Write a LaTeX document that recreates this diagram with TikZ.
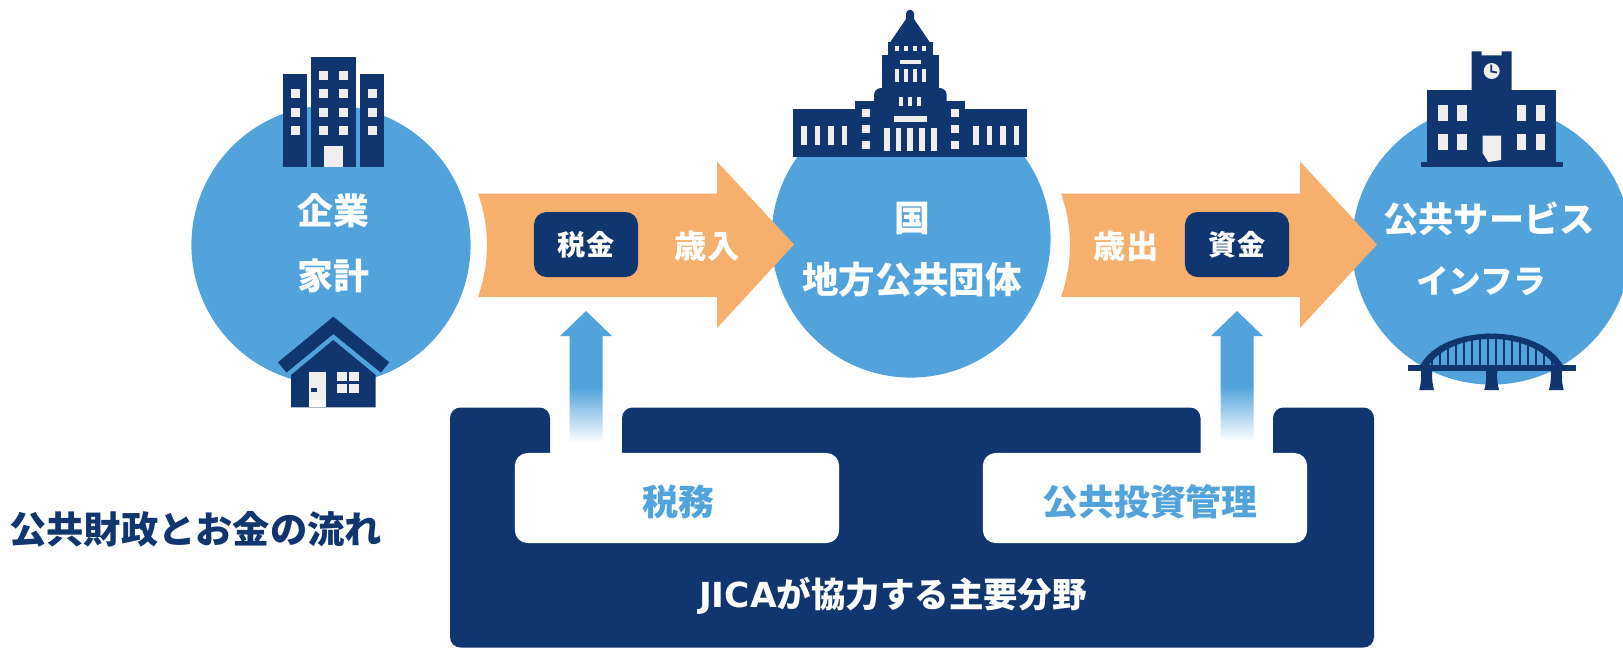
\documentclass[tikz,border=0pt]{standalone}
\usepackage{fontspec}
\setmainfont{Noto Sans CJK JP}
\newfontfamily\jicafont{DejaVu Sans}
\usepackage{tikz}
\definecolor{navy}{HTML}{11366F}
\definecolor{sky}{HTML}{52A3DC}
\definecolor{peach}{HTML}{F6AF6C}
\definecolor{pane}{HTML}{F0EEED}
\pgfdeclareverticalshading{liftfade}{100bp}{color(0bp)=(white); color(25bp)=(white); color(46bp)=(sky); color(100bp)=(sky)}
\tikzset{
    bluecircle/.style={circle, fill=sky, minimum size=2.79cm, inner sep=0pt},
    bigtext/.style={text=white, font=\bfseries\fontsize{10.2}{12}\selectfont, inner sep=0pt},
    smalltext/.style={text=white, font=\bfseries\fontsize{9.2}{10}\selectfont, inner sep=0pt},
    navybox/.style={fill=navy, rounded corners=3.6pt, minimum width=1.04cm, minimum height=0.65cm, inner sep=0pt, text=white, font=\bfseries\fontsize{8}{10}\selectfont},
    whitebox/.style={fill=white, rounded corners=3.6pt, minimum width=3.24cm, minimum height=0.90cm, inner sep=0pt},
    flow/.style={fill=peach},
    icon/.style={fill=navy},
    windowpane/.style={fill=pane}
}

\begin{document}
\begin{tikzpicture}[x=0.01cm, y=-0.01cm]
    \clip (0, 0) rectangle (1623, 647);

    \node[bluecircle] (firms) at (331, 245) {};
    \node[bluecircle] (state) at (911, 238) {};
    \node[bluecircle] (services) at (1491.5, 245) {};

    \fill[flow] (478, 193.5) -- (717, 193.5) -- (717, 161.5) -- (794, 244.5) -- (717, 328) -- (717, 297) -- (478, 297) .. controls (490, 262) and (490, 228) .. cycle;
    \fill[flow] (1061, 193.5) -- (1300, 193.5) -- (1300, 161.5) -- (1377, 244.5) -- (1300, 328) -- (1300, 297) -- (1061, 297) .. controls (1073, 262) and (1073, 228) .. cycle;

    \fill[icon] (283.3, 74.3) rectangle (307.3, 166.7);
    \fill[icon] (311, 57) rectangle (356, 166.7);
    \fill[icon] (360, 74.3) rectangle (383.7, 166.7);
    \foreach \wy in {93.3, 112, 130.7} {
        \foreach \wx in {295.3, 323.7, 343.3, 372} {
            \fill[windowpane] (\wx-4.5, \wy-4.5) rectangle (\wx+4.5, \wy+4.5);
        }
    }
    \fill[windowpane] (319.2, 70.5) rectangle (328.2, 79.5);
    \fill[windowpane] (338.8, 70.5) rectangle (347.8, 79.5);
    \fill[windowpane] (323.7, 146) rectangle (343.3, 166.7);

    \fill[icon] (333.3, 316.7) -- (389.3, 362.3) -- (380.7, 372.7) -- (333.3, 334.3) -- (286.7, 372.7) -- (278, 362.3) -- cycle;
    \fill[sky] (286.7, 372.7) -- (333.3, 334.3) -- (380.7, 372.7) -- (375.7, 375) -- (333.3, 340) -- (291, 375) -- cycle;
    \fill[icon] (333.3, 340) -- (375.7, 375) -- (375.7, 407.3) -- (291, 407.3) -- (291, 375) -- cycle;
    \fill[white] (308.7, 371.7) rectangle (326, 407.3);
    \fill[windowpane] (308.7, 371.7) rectangle (326, 400);
    \fill[icon] (311, 388) rectangle (317, 392);
    \foreach \wx in {337.3, 349.3} {
        \foreach \wy in {372, 383.7} {
            \fill[windowpane] (\wx, \wy) rectangle (\wx+9.4, \wy+9.3);
        }
    }

    \fill[icon] (793.3, 109.3) rectangle (1027.3, 156.7);
    \fill[icon] (855.3, 101.3) rectangle (965.3, 110);
    \fill[icon] (874, 102) -- (874, 95) arc (180:270:7) -- (939.7, 88) arc (270:360:7) -- (946.7, 102) -- cycle;
    \fill[icon] (882.3, 55) rectangle (938.7, 89);
    \fill[icon] (887.7, 42.3) rectangle (933.3, 55.5);
    \fill[icon] (890, 42.5) -- (906, 19) -- (906, 13.7) arc (180:360:4) -- (914, 19) -- (930, 42.5) -- cycle;
    \foreach \wx in {894.7, 904, 913, 922} {
        \fill[windowpane] (\wx, 46.3) rectangle (\wx+4.3, 51);
        \fill[windowpane] (\wx, 69) rectangle (\wx+4.3, 82.3);
    }
    \fill[windowpane] (900, 60) rectangle (921, 64.3);
    \foreach \wx in {899.3, 908, 917} {
        \fill[windowpane] (\wx, 97) rectangle (\wx+4, 106);
    }
    \foreach \wx in {862, 950.7} {
        \foreach \wy in {109, 125, 141} {
            \fill[windowpane] (\wx, \wy) rectangle (\wx+8, \wy+8.3);
        }
    }
    \fill[windowpane] (894, 116.3) rectangle (926.7, 122.3);
    \foreach \wx/\ww in {884/6, 896/5, 907/6, 919/6, 931/5.7} {
        \fill[windowpane] (\wx, 128.3) rectangle (\wx+\ww, 151);
    }
    \foreach \wx/\ww in {801.3/6, 815/5, 828/6, 842/5.3, 973/6, 987/5, 1000/6, 1014/5} {
        \fill[windowpane] (\wx, 125.7) rectangle (\wx+\ww, 145);
    }

    \fill[icon] (1421, 162) rectangle (1562.7, 167);
    \fill[icon] (1427.3, 90) rectangle (1556, 162.5);
    \fill[icon] (1471.7, 90.5) -- (1471.7, 51.3) -- (1481.7, 51.3) -- (1481.7, 55.3) -- (1501.7, 55.3) -- (1501.7, 51.3) -- (1511.7, 51.3) -- (1511.7, 90.5) -- cycle;
    \fill[windowpane] (1491.7, 71) circle (8);
    \draw[navy, line width=0.5pt] (1491.2, 64.5) -- (1491.2, 71.5) -- (1497, 72.5);
    \foreach \wx in {1438.3, 1457.3, 1516.7, 1535.7} {
        \fill[windowpane] (\wx, 105) rectangle (\wx+9.5, 120.7);
        \fill[windowpane] (\wx, 134) rectangle (\wx+9.5, 150);
    }
    \fill[windowpane] (1482.7, 135.7) -- (1501, 135.7) -- (1501, 160) -- (1488.3, 162) -- (1482.7, 153.3) -- cycle;

    \begin{scope}
        \clip (1420, 366) .. controls (1442, 322.8) and (1540, 322.8) .. (1563.3, 366) -- cycle;
        \foreach \hx in {1431.7, 1439.7, ..., 1552} {
            \fill[icon] (\hx-1.2, 330) rectangle (\hx+1.2, 366);
        }
    \end{scope}
    \fill[icon] (1420, 366) .. controls (1442, 322.8) and (1540, 322.8) .. (1563.3, 366) -- (1555, 366) .. controls (1530, 329.9) and (1452, 329.9) .. (1428.3, 366) -- cycle;
    \fill[icon] (1408, 365) rectangle (1576, 370.7);
    \foreach \px in {1419.3, 1484.3, 1549} {
        \fill[icon] (\px+1.5, 370) .. controls (\px+2.5, 378) and (\px+1.5, 384) .. (\px, 390) -- (\px+14.7, 390) .. controls (\px+13.2, 384) and (\px+12.2, 378) .. (\px+13.2, 370) -- cycle;
    }

    \fill[navy, rounded corners=3pt] (450, 647.5) -- (450, 407.5) -- (550, 407.5) -- (550, 470) -- (622, 470) -- (622, 407.5) -- (1200.5, 407.5) -- (1200.5, 470) -- (1273, 470) -- (1273, 407.5) -- (1374, 407.5) -- (1374, 647.5) -- cycle;

    \foreach \ax/\ay in {586/443, 1237/441} {
        \shade[shading=liftfade] (\ax, 311) -- (\ax+26, 336) -- (\ax+16.5, 336) -- (\ax+16.5, \ay) -- (\ax-16.5, \ay) -- (\ax-16.5, 336) -- (\ax-26, 336) -- cycle;
    }

    \node[whitebox] (taxation) at (677, 498) {};
    \node[whitebox] (investment) at (1145, 498) {};
    \node[text=sky, font=\bfseries\fontsize{10.2}{12}\selectfont, inner sep=0pt] (taxlabel) at (678, 502) {税務};
    \node[text=sky, font=\bfseries\fontsize{10.2}{12}\selectfont, inner sep=0pt] (investlabel) at (1150, 502) {公共投資管理};

    \node[navybox] (taxbox) at (586, 244.5) {税金};
    \node[navybox] (fundbox) at (1237, 244.5) {資金};
    \node[smalltext] (revenue) at (707, 246) {歳入};
    \node[smalltext] (spending) at (1126, 246) {歳出};

    \node[bigtext] (firmlabel) at (333, 211) {企業};
    \node[bigtext] (homelabel) at (333, 275.5) {家計};
    \node[bigtext] (statelabel) at (912, 218) {国};
    \node[bigtext, font=\bfseries\fontsize{10.4}{12}\selectfont] (locallabel) at (912, 279.5) {地方公共団体};
    \node[bigtext, font=\bfseries\fontsize{10}{12}\selectfont] (servicelabel) at (1489, 218.5) {公共サービス};
    \node[bigtext, font=\bfseries\fontsize{9.3}{12}\selectfont] (infralabel) at (1481, 281.5) {インフラ};

    \node[text=navy, font=\bfseries\fontsize{10.6}{12}\selectfont, inner sep=0pt] (title) at (195.7, 529) {公共財政とお金の流れ};
    \node[text=white, font=\bfseries\fontsize{9.8}{12}\selectfont, inner sep=0pt] (jicalabel) at (893, 596) {{\jicafont JICA}が協力する主要分野};
\end{tikzpicture}
\end{document}
